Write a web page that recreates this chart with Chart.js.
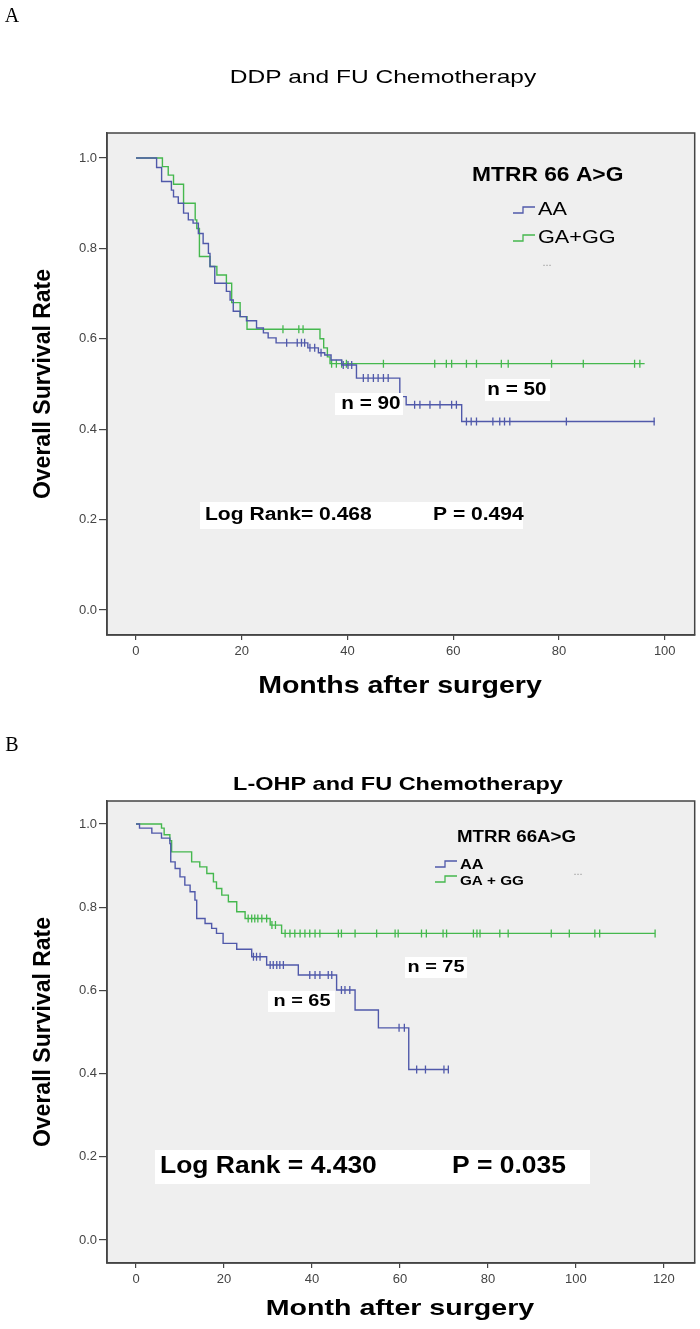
<!DOCTYPE html>
<html>
<head>
<meta charset="utf-8">
<script src="https://cdn.jsdelivr.net/npm/chart.js@4.4.0/dist/chart.umd.min.js"></script>
<style>
body { margin: 0; background: #fff; width: 700px; height: 1329px; position: relative; overflow: hidden; }
canvas { position: absolute; left: 0; }
#chartA { top: 0; }
#chartB { top: 725px; }
</style>
</head>
<body>
<canvas id="chartA" width="700" height="725"></canvas>
<canvas id="chartB" width="700" height="604"></canvas>
<script>
// Panel A - DDP and FU chemotherapy (Kaplan-Meier)
const aaTimesA = [0, 3.9, 4.85, 6.7, 7.1, 8.0, 9.0, 9.9, 10.8, 11.8, 12.7, 13.7, 14.0, 14.9, 17.1, 17.8, 18.4, 19.7, 20.9, 22.8, 24.1, 25.0, 26.5, 32.5, 34.5, 35.7, 36.9, 38.9, 41.7, 49.9, 51.1, 61.6, 98.1];
const aaSurvA  = [1.0, 0.979, 0.948, 0.929, 0.914, 0.900, 0.878, 0.863, 0.856, 0.833, 0.811, 0.789, 0.760, 0.723, 0.705, 0.686, 0.661, 0.649, 0.640, 0.624, 0.613, 0.602, 0.591, 0.580, 0.569, 0.564, 0.553, 0.542, 0.513, 0.472, 0.454, 0.417, 0.417];
const aaCensorA = [28.5, 30.5, 31.3, 31.9, 32.9, 33.8, 35.0, 39.2, 40.1, 40.8, 43.0, 43.9, 44.9, 45.8, 46.8, 47.7, 52.7, 53.7, 55.6, 57.5, 59.7, 60.6, 62.5, 63.4, 64.4, 67.5, 68.8, 69.7, 70.7, 81.4, 98.0];

const ggTimesA = [0, 5.0, 6.1, 7.1, 9.0, 11.2, 11.5, 12.0, 14.0, 15.3, 17.1, 18.1, 19.7, 21.0, 34.8, 35.5, 36.2, 36.7, 96.2];
const ggSurvA  = [1.0, 0.981, 0.962, 0.942, 0.900, 0.863, 0.844, 0.782, 0.760, 0.741, 0.723, 0.680, 0.649, 0.621, 0.600, 0.580, 0.560, 0.545, 0.545];
const ggCensorA = [27.8, 30.8, 31.6, 37.0, 37.9, 38.9, 39.8, 46.8, 56.5, 58.7, 59.7, 62.5, 64.4, 69.1, 70.4, 78.6, 84.6, 94.3, 95.3];

// Panel B - L-OHP and FU chemotherapy
const aaTimesB = [0, 0.8, 3.6, 5.8, 7.7, 7.9, 8.9, 10.0, 11.1, 12.3, 13.4, 13.8, 15.7, 17.2, 18.3, 19.8, 22.9, 26.3, 29.7, 36.9, 45.6, 49.8, 55.1, 62.0, 71.0];
const aaSurvB  = [1.0, 0.990, 0.978, 0.966, 0.953, 0.909, 0.893, 0.873, 0.853, 0.837, 0.817, 0.773, 0.761, 0.749, 0.737, 0.713, 0.699, 0.681, 0.661, 0.637, 0.601, 0.553, 0.510, 0.410, 0.410];
const aaCensorB = [26.7, 27.4, 28.2, 30.5, 31.2, 32.0, 32.7, 33.5, 39.5, 40.7, 41.8, 43.7, 44.5, 46.7, 47.5, 48.6, 59.8, 61.0, 63.8, 65.8, 70.0, 71.0];

const ggTimesB = [0, 5.8, 6.4, 7.7, 8.1, 12.65, 14.5, 16.1, 17.6, 18.3, 19.5, 21.0, 22.9, 24.8, 30.5, 33.1, 118.0];
const ggSurvB  = [1.0, 0.990, 0.974, 0.960, 0.933, 0.909, 0.897, 0.881, 0.861, 0.845, 0.829, 0.813, 0.789, 0.773, 0.757, 0.737, 0.737];
const ggCensorB = [25.5, 26.3, 27.0, 27.7, 28.6, 29.7, 30.9, 31.7, 33.9, 35.0, 36.1, 37.3, 38.4, 39.5, 40.7, 41.8, 46.0, 46.7, 49.8, 54.7, 58.9, 59.6, 64.9, 66.0, 69.8, 70.6, 76.7, 77.5, 78.2, 82.7, 84.6, 94.4, 98.5, 104.3, 105.4, 118.0];

const xTicksA = [0, 20, 40, 60, 80, 100];
const xTicksB = [0, 20, 40, 60, 80, 100, 120];
const yTicks = [0, 0.2, 0.4, 0.6, 0.8, 1.0];

const BLUE = '#5059aa';
const GREEN = '#45b84e';
const SANS = '"Liberation Sans", Arial, sans-serif';

// survival value of a step curve at time t (used to place censor marks)
function survAt(times, surv, t) {
    let s = surv[0];
    for (let i = 0; i < times.length; i++) {
        if (times[i] <= t) s = surv[i];
    }
    return s;
}

function curveSets(times, surv, censor, color) {
    return [{
        data: times.map((t, i) => ({ x: t, y: surv[i] })),
        borderColor: color,
        borderWidth: 1.4,
        stepped: 'before',
        pointRadius: 0,
        fill: false
    }, {
        data: censor.map(t => ({ x: t, y: survAt(times, surv, t) })),
        showLine: false,
        borderColor: color,
        pointStyle: 'line',
        pointRotation: 90,
        pointRadius: 4,
        pointBorderWidth: 1.3
    }];
}

// background, frame and all the SPSS-style annotation text
const panelDecor = {
    id: 'panelDecor',
    beforeDraw(chart) {
        const { ctx, chartArea: a } = chart;
        ctx.save();
        ctx.fillStyle = '#efefef';
        ctx.fillRect(a.left, a.top, a.right - a.left, a.bottom - a.top);
        ctx.restore();
    },
    afterDraw(chart, args, opts) {
        const { ctx, chartArea: a } = chart;
        const off = opts.offsetY || 0;
        ctx.save();
        ctx.strokeStyle = '#444';
        ctx.lineWidth = 1.5;
        ctx.strokeRect(a.left, a.top, a.right - a.left, a.bottom - a.top);

        (opts.boxes || []).forEach(b => {
            ctx.fillStyle = '#fff';
            ctx.fillRect(b[0], b[1] - off, b[2], b[3]);
        });

        (opts.swatches || []).forEach(s => {
            ctx.strokeStyle = s.color;
            ctx.lineWidth = 1.3;
            ctx.beginPath();
            ctx.moveTo(s.x, s.y - off + 3);
            ctx.lineTo(s.x + 10, s.y - off + 3);
            ctx.lineTo(s.x + 10, s.y - off - 3);
            ctx.lineTo(s.x + s.w, s.y - off - 3);
            ctx.stroke();
        });

        (opts.texts || []).forEach(t => {
            ctx.save();
            ctx.font = t.font;
            ctx.fillStyle = t.color || '#000';
            ctx.textAlign = t.align || 'center';
            ctx.textBaseline = 'middle';
            ctx.translate(t.x, t.y - off);
            if (t.rot) ctx.rotate(t.rot * Math.PI / 180);
            ctx.scale(t.sx || 1, 1);
            ctx.fillText(t.t, 0, 0);
            ctx.restore();
        });
        ctx.restore();
    }
};

function makeChart(id, p) {
    return new Chart(document.getElementById(id), {
        type: 'line',
        data: { datasets: p.datasets },
        options: {
            responsive: false,
            animation: false,
            devicePixelRatio: 1,
            events: [],
            layout: { padding: { top: p.padTop, right: 5, left: 0, bottom: 0 } },
            plugins: {
                legend: { display: false },
                tooltip: { enabled: false },
                panelDecor: p.decor
            },
            scales: {
                x: {
                    type: 'linear',
                    min: p.xMin,
                    max: p.xMax,
                    afterBuildTicks: s => { s.ticks = p.xTicks.map(v => ({ value: v })); },
                    afterFit: s => { s.height = p.xAxisH; },
                    grid: { drawOnChartArea: false, drawTicks: true, tickLength: 5, color: '#444', lineWidth: 1.2 },
                    border: { display: true, color: '#444', width: 1.5 },
                    ticks: { color: '#444', font: { family: SANS, size: 13 }, padding: 4, maxRotation: 0, autoSkip: false }
                },
                y: {
                    type: 'linear',
                    min: -0.0553,
                    max: 1.0553,
                    afterBuildTicks: s => { s.ticks = yTicks.map(v => ({ value: v })); },
                    afterFit: s => { s.width = 107; },
                    grid: { drawOnChartArea: false, drawTicks: true, tickLength: 8, color: '#444', lineWidth: 1.2 },
                    border: { display: true, color: '#444', width: 1.5 },
                    ticks: { color: '#444', font: { family: SANS, size: 13 }, padding: 2, callback: v => v.toFixed(1) }
                }
            }
        },
        plugins: [panelDecor]
    });
}

makeChart('chartA', {
    padTop: 133,
    xAxisH: 90,
    xMin: -5.48,
    xMax: 105.67,
    xTicks: xTicksA,
    datasets: [
        ...curveSets(aaTimesA, aaSurvA, aaCensorA, BLUE),
        ...curveSets(ggTimesA, ggSurvA, ggCensorA, GREEN)
    ],
    decor: {
        offsetY: 0,
        boxes: [[335, 393, 68, 22], [485, 379, 65, 22], [200, 502, 323, 27]],
        swatches: [{ x: 513, y: 210, w: 22, color: BLUE }, { x: 513, y: 238, w: 22, color: GREEN }],
        texts: [
            { t: 'A', x: 12, y: 17, font: '20px "Liberation Serif", serif' },
            { t: 'DDP and FU Chemotherapy', x: 383, y: 78, font: '19px ' + SANS, sx: 1.29 },
            { t: 'Overall Survival Rate', x: 44, y: 384, rot: -90, font: 'bold 23px ' + SANS },
            { t: 'Months after surgery', x: 400, y: 687, font: 'bold 23px ' + SANS, sx: 1.24 },
            { t: 'MTRR 66 A>G', x: 472, y: 175, align: 'left', font: 'bold 20px ' + SANS, sx: 1.14 },
            { t: 'AA', x: 538, y: 210, align: 'left', font: '19px ' + SANS, sx: 1.14 },
            { t: 'GA+GG', x: 538, y: 238, align: 'left', font: '19px ' + SANS, sx: 1.14 },
            { t: '...', x: 547, y: 263, font: '11px ' + SANS, color: '#999' },
            { t: 'n = 90', x: 371, y: 404, font: 'bold 18px ' + SANS, sx: 1.15 },
            { t: 'n = 50', x: 517, y: 390, font: 'bold 18px ' + SANS, sx: 1.15 },
            { t: 'Log Rank= 0.468', x: 205, y: 515, align: 'left', font: 'bold 18px ' + SANS, sx: 1.17 },
            { t: 'P = 0.494', x: 433, y: 515, align: 'left', font: 'bold 18px ' + SANS, sx: 1.17 }
        ]
    }
});

makeChart('chartB', {
    padTop: 76,
    xAxisH: 66,
    xMin: -6.59,
    xMax: 127.0,
    xTicks: xTicksB,
    datasets: [
        ...curveSets(aaTimesB, aaSurvB, aaCensorB, BLUE),
        ...curveSets(ggTimesB, ggSurvB, ggCensorB, GREEN)
    ],
    decor: {
        offsetY: 725,
        boxes: [[405, 957, 62, 21], [268, 991, 67, 21], [155, 1150, 435, 34]],
        swatches: [{ x: 435, y: 864, w: 22, color: BLUE }, { x: 435, y: 879, w: 22, color: GREEN }],
        texts: [
            { t: 'B', x: 12, y: 746, font: '20px "Liberation Serif", serif' },
            { t: 'L-OHP and FU Chemotherapy', x: 398, y: 785, font: 'bold 19px ' + SANS, sx: 1.235 },
            { t: 'Overall Survival Rate', x: 44, y: 1032, rot: -90, font: 'bold 23px ' + SANS },
            { t: 'Month after surgery', x: 400, y: 1309, font: 'bold 22px ' + SANS, sx: 1.3 },
            { t: 'MTRR 66A>G', x: 457, y: 838, align: 'left', font: 'bold 16px ' + SANS, sx: 1.17 },
            { t: 'AA', x: 460, y: 865, align: 'left', font: 'bold 14px ' + SANS, sx: 1.17 },
            { t: 'GA + GG', x: 460, y: 881, align: 'left', font: 'bold 13px ' + SANS, sx: 1.17 },
            { t: '...', x: 578, y: 872, font: '11px ' + SANS, color: '#999' },
            { t: 'n = 75', x: 436, y: 967, font: 'bold 17px ' + SANS, sx: 1.17 },
            { t: 'n = 65', x: 302, y: 1001, font: 'bold 17px ' + SANS, sx: 1.17 },
            { t: 'Log Rank = 4.430', x: 160, y: 1167, align: 'left', font: 'bold 23px ' + SANS, sx: 1.15 },
            { t: 'P = 0.035', x: 452, y: 1167, align: 'left', font: 'bold 23px ' + SANS, sx: 1.15 }
        ]
    }
});
</script>
</body>
</html>
